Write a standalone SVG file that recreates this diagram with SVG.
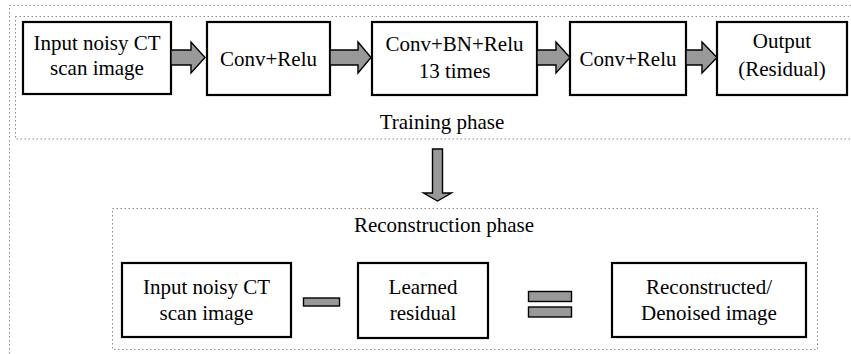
<svg xmlns="http://www.w3.org/2000/svg" width="851" height="354" viewBox="0 0 851 354">
  <style>
    .frame { fill: none; stroke: #8a8a8a; stroke-width: 1; stroke-dasharray: 1.5 2.5; }
    .box { fill: #ffffff; stroke: #000000; stroke-width: 2.2; }
    .flow { fill: #999999; stroke: #000000; stroke-width: 1.4; stroke-linejoin: miter; }
  </style>
  <rect width="851" height="354" fill="#ffffff"/>

  <!-- outer frame and phase frames -->
  <g id="frames">
    <rect class="frame" x="9.5" y="5.5" width="900" height="420"/>
    <rect class="frame" x="15.5" y="16.5" width="900" height="122.5"/>
    <rect class="frame" x="112.5" y="208.5" width="705" height="141"/>
  </g>

  <g font-family="Liberation Serif, DejaVu Serif, serif" font-size="21" fill="#000000" text-anchor="middle">
    <!-- training phase pipeline -->
    <g id="train-input">
      <rect class="box" x="23" y="22" width="148" height="72"/>
      <text x="97" y="50">Input noisy CT</text>
      <text x="97" y="75">scan image</text>
    </g>
    <g id="train-conv1">
      <rect class="box" x="207" y="22" width="123" height="73"/>
      <text x="268.5" y="66">Conv+Relu</text>
    </g>
    <g id="train-convbn">
      <rect class="box" x="372" y="22" width="165" height="73"/>
      <text x="454.5" y="51">Conv+BN+Relu</text>
      <text x="454.5" y="78">13 times</text>
    </g>
    <g id="train-conv2">
      <rect class="box" x="570" y="22" width="116" height="73"/>
      <text x="628" y="66">Conv+Relu</text>
    </g>
    <g id="train-output">
      <rect class="box" x="717" y="22" width="130" height="73"/>
      <text x="782" y="48">Output</text>
      <text x="782" y="76">(Residual)</text>
    </g>
    <text x="442" y="129">Training phase</text>

    <!-- connectors: block arrows -->
    <g id="connectors">
      <polygon class="flow" points="171,50 191,50 191,42 205,57.5 191,73 191,65 171,65"/>
      <polygon class="flow" points="330,50 358,50 358,42 371,57.5 358,73 358,65 330,65"/>
      <polygon class="flow" points="537,50 556,50 556,42 570,57.5 556,73 556,65 537,65"/>
      <polygon class="flow" points="686,50 702,50 702,42 717,57.5 702,73 702,65 686,65"/>
      <polygon class="flow" points="432.5,149 442.5,149 442.5,193 451.5,193 437.5,201 423.5,193 432.5,193"/>
    </g>

    <!-- reconstruction phase -->
    <text x="444" y="232">Reconstruction phase</text>
    <g id="recon-input">
      <rect class="box" x="122" y="263" width="169" height="74"/>
      <text x="206.5" y="294">Input noisy CT</text>
      <text x="206.5" y="320">scan image</text>
    </g>
    <g id="minus">
      <rect class="flow" x="303.5" y="298" width="36" height="8"/>
    </g>
    <g id="recon-residual">
      <rect class="box" x="358" y="263" width="130" height="75"/>
      <text x="423" y="294">Learned</text>
      <text x="423" y="320">residual</text>
    </g>
    <g id="equals">
      <rect class="flow" x="528.5" y="291.5" width="43" height="10"/>
      <rect class="flow" x="528.5" y="307" width="43" height="10"/>
    </g>
    <g id="recon-output">
      <rect class="box" x="612" y="263" width="194" height="74"/>
      <text x="709" y="294">Reconstructed/</text>
      <text x="709" y="320">Denoised image</text>
    </g>
  </g>
</svg>
